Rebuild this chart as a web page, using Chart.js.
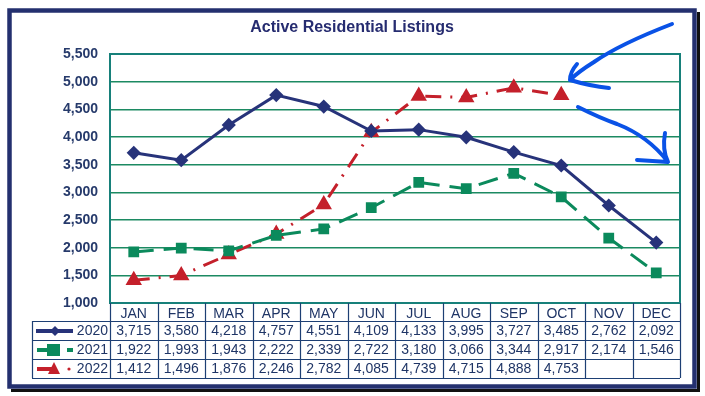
<!DOCTYPE html>
<html>
<head>
<meta charset="utf-8">
<script src="https://cdn.jsdelivr.net/npm/chart.js@4/dist/chart.umd.min.js"></script>
<style>
  html, body { margin: 0; padding: 0; background: #fff; }
  #wrap { width: 705px; height: 396px; }
</style>
</head>
<body>
<div id="wrap"><canvas id="chart" width="705" height="396"></canvas></div>
<script>
// chart data
const months = ['JAN', 'FEB', 'MAR', 'APR', 'MAY', 'JUN', 'JUL', 'AUG', 'SEP', 'OCT', 'NOV', 'DEC'];
const listings2020 = [3715, 3580, 4218, 4757, 4551, 4109, 4133, 3995, 3727, 3485, 2762, 2092];
const listings2021 = [1922, 1993, 1943, 2222, 2339, 2722, 3180, 3066, 3344, 2917, 2174, 1546];
const listings2022 = [1412, 1496, 1876, 2246, 2782, 4085, 4739, 4715, 4888, 4753, null, null];
const yTicks = [1000, 1500, 2000, 2500, 3000, 3500, 4000, 4500, 5000, 5500];

const NAVY = '#27337a';
const GREEN = '#0b8a5c';
const RED = '#c4202b';
const TEXT = '#1f3566';
const GRID = '#1c8a62';
const TEAL = '#17807a';

const fmt = v => (v == null ? '' : v.toLocaleString('en-US'));

// draws frame, title, table, annotation arrows
const extras = {
  id: 'extras',
  beforeDraw(chart) {
    const ctx = chart.ctx;
    ctx.save();
    ctx.fillStyle = '#fff';
    ctx.fillRect(0, 0, chart.width, chart.height);
    // shadow + frame
    ctx.fillStyle = '#111';
    ctx.fillRect(11, 12, 689, 380);
    ctx.fillStyle = '#fff';
    ctx.fillRect(7, 8, 690, 381);
    ctx.strokeStyle = '#24306f';
    ctx.lineWidth = 4.5;
    ctx.strokeRect(9.5, 10.5, 685, 376);
    ctx.restore();
  },
  afterDraw(chart) {
    const ctx = chart.ctx;
    const area = chart.chartArea;
    const x = chart.scales.x;
    ctx.save();

    // plot border
    ctx.strokeStyle = TEAL;
    ctx.lineWidth = 2;
    ctx.strokeRect(area.left, area.top, area.right - area.left, area.bottom - area.top);

    // title
    ctx.fillStyle = '#262c70';
    ctx.font = 'bold 16px "Liberation Sans", Arial, sans-serif';
    ctx.textAlign = 'center';
    ctx.textBaseline = 'middle';
    ctx.fillText('Active Residential Listings', 352, 28);

    // table grid
    const colW = (area.right - area.left) / months.length;
    const rowH = 19;
    const top = area.bottom + 18;
    const tLeft = 32;
    ctx.strokeStyle = '#1d3f74';
    ctx.lineWidth = 1.2;
    ctx.beginPath();
    for (let i = 0; i <= months.length; i++) {
      const cx = Math.round(x.getPixelForValue(i) - colW / 2) + 0.5;
      ctx.moveTo(cx, area.bottom);
      ctx.lineTo(cx, top + rowH * 3);
    }
    for (let r = 0; r <= 3; r++) {
      const y = Math.round(top + r * rowH) + 0.5;
      ctx.moveTo(tLeft, y);
      ctx.lineTo(area.right, y);
    }
    ctx.moveTo(tLeft + 0.5, top);
    ctx.lineTo(tLeft + 0.5, top + rowH * 3);
    ctx.stroke();

    const rows = [
      { label: '2020', data: listings2020, color: NAVY, kind: 'diamond' },
      { label: '2021', data: listings2021, color: GREEN, kind: 'square' },
      { label: '2022', data: listings2022, color: RED, kind: 'triangle' }
    ];
    ctx.font = '14px "Liberation Sans", Arial, sans-serif';
    ctx.textBaseline = 'middle';
    rows.forEach((row, r) => {
      const cy = top + r * rowH + rowH / 2 + 0.5;
      ctx.fillStyle = TEXT;
      ctx.textAlign = 'center';
      row.data.forEach((v, i) => {
        ctx.fillText(fmt(v), x.getPixelForValue(i), cy);
      });
      ctx.textAlign = 'right';
      ctx.fillText(row.label, 108, cy);

      // legend key
      ctx.strokeStyle = row.color;
      ctx.fillStyle = row.color;
      ctx.lineWidth = 4;
      ctx.beginPath();
      if (row.kind === 'diamond') {
        ctx.moveTo(36, cy); ctx.lineTo(73, cy); ctx.stroke();
        ctx.beginPath();
        ctx.moveTo(55, cy - 5); ctx.lineTo(60, cy); ctx.lineTo(55, cy + 5); ctx.lineTo(50, cy);
        ctx.closePath(); ctx.fill();
      } else if (row.kind === 'square') {
        ctx.moveTo(37, cy); ctx.lineTo(50, cy); ctx.stroke();
        ctx.fillRect(47, cy - 6, 13, 12);
        ctx.beginPath(); ctx.moveTo(67, cy); ctx.lineTo(73, cy); ctx.stroke();
      } else {
        ctx.moveTo(37, cy); ctx.lineTo(52, cy); ctx.stroke();
        ctx.beginPath();
        ctx.moveTo(54, cy - 7); ctx.lineTo(60, cy + 5); ctx.lineTo(48, cy + 5);
        ctx.closePath(); ctx.fill();
        ctx.beginPath(); ctx.arc(69, cy, 1.6, 0, Math.PI * 2); ctx.fill();
      }
    });

    // hand-drawn annotation arrows
    ctx.strokeStyle = '#0a52e6';
    ctx.lineWidth = 4;
    ctx.lineCap = 'round';
    ctx.lineJoin = 'round';
    ctx.beginPath();
    ctx.moveTo(672, 24);
    ctx.quadraticCurveTo(620, 44, 594, 62);
    ctx.quadraticCurveTo(578, 72, 570, 80);
    ctx.moveTo(577, 64);
    ctx.quadraticCurveTo(570, 72, 570, 80);
    ctx.quadraticCurveTo(590, 86, 609, 88);
    ctx.stroke();
    ctx.beginPath();
    ctx.moveTo(578, 107);
    ctx.quadraticCurveTo(600, 118, 617, 124);
    ctx.quadraticCurveTo(648, 136, 668, 162);
    ctx.moveTo(665, 133);
    ctx.quadraticCurveTo(662, 150, 668, 162);
    ctx.lineTo(637, 160);
    ctx.stroke();

    ctx.restore();
  }
};

new Chart(document.getElementById('chart'), {
  type: 'line',
  data: {
    labels: months,
    datasets: [
      {
        label: '2020',
        data: listings2020,
        borderColor: NAVY,
        backgroundColor: NAVY,
        borderWidth: 3,
        pointStyle: 'rectRot',
        pointRadius: 5,
        pointHoverRadius: 5
      },
      {
        label: '2021',
        data: listings2021,
        borderColor: GREEN,
        backgroundColor: GREEN,
        borderWidth: 3,
        borderDash: [20, 10],
        pointStyle: 'rect',
        pointRadius: 5.5,
        pointHoverRadius: 5.5
      },
      {
        label: '2022',
        data: listings2022,
        borderColor: RED,
        backgroundColor: RED,
        borderWidth: 3,
        borderDash: [16, 9, 2, 9],
        pointStyle: 'triangle',
        pointRadius: 6.5,
        pointHoverRadius: 6.5
      }
    ]
  },
  options: {
    responsive: false,
    animation: false,
    events: [],
    layout: { padding: { top: 54, left: 0, right: 25, bottom: 75 } },
    plugins: {
      legend: { display: false },
      title: { display: false },
      tooltip: { enabled: false }
    },
    scales: {
      x: {
        offset: true,
        grid: { display: false, drawTicks: false },
        border: { display: false },
        ticks: {
          padding: 3,
          color: TEXT,
          font: { family: '"Liberation Sans", Arial, sans-serif', size: 14 },
          maxRotation: 0,
          autoSkip: false
        },
        afterFit: s => { s.height = 18; }
      },
      y: {
        min: yTicks[0],
        max: yTicks[yTicks.length - 1],
        afterBuildTicks: s => { s.ticks = yTicks.map(v => ({ value: v })); },
        grid: { color: GRID, lineWidth: 1.5, drawTicks: false },
        border: { display: false },
        ticks: {
          padding: 12,
          color: '#263a6b',
          font: { family: '"Liberation Sans", Arial, sans-serif', size: 14, weight: 'bold' },
          callback: v => fmt(v)
        },
        afterFit: s => { s.width = 110; }
      }
    }
  },
  plugins: [extras]
});
</script>
</body>
</html>
